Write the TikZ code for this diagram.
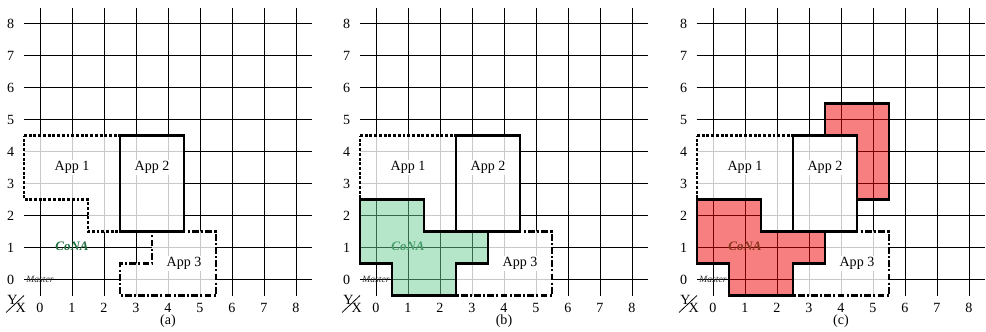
\documentclass[tikz,border=0pt]{standalone}
\usepackage{fontspec}
\setmainfont{Liberation Serif}
\definecolor{conagreen}{RGB}{30,110,60}
\definecolor{mintfill}{RGB}{110,205,150}
\definecolor{gridgray}{RGB}{200,200,200}
\definecolor{mastergray}{RGB}{50,50,50}
\definecolor{redfill}{RGB}{240,0,0}
\tikzset{
  gridline/.style={line width=0.8pt, black},
  innergrid/.style={line width=0.8pt, gridgray},
  appone/.style={line width=2.2pt, dash pattern=on 2.6pt off 1.6pt},
  apptwo/.style={line width=2.2pt},
  appthree/.style={line width=2.2pt, dash pattern=on 6pt off 2pt on 1.8pt off 2pt},
  applabel/.style={fill=white, inner sep=1pt, font=\fontsize{12.5}{14}\selectfont},
  axislabel/.style={inner sep=0pt, font=\fontsize{12.5}{14}\selectfont},
  caption/.style={inner sep=0pt, font=\fontsize{12.5}{14}\selectfont},
  masterlabel/.style={inner sep=0pt, text=mastergray, font=\fontsize{8.5}{9}\selectfont\itshape},
  conalabel/.style={inner sep=0pt, font=\fontsize{11.5}{12}\selectfont\bfseries\itshape},
  conaborder/.style={line width=2.3pt},
  pAone/.style={insert path={(-0.5,4.5) -- (2.5,4.5) -- (2.5,1.5) -- (1.5,1.5) -- (1.5,2.5) -- (-0.5,2.5) -- cycle}},
  pAtwo/.style={insert path={(2.5,1.5) rectangle (4.5,4.5)}},
  pAthree/.style={insert path={(3.5,1.5) -- (5.5,1.5) -- (5.5,-0.5) -- (2.5,-0.5) -- (2.5,0.5) -- (3.5,0.5) -- cycle}},
  pCona/.style={insert path={(-0.5,2.5) -- (1.5,2.5) -- (1.5,1.5) -- (3.5,1.5) -- (3.5,0.5) -- (2.5,0.5) -- (2.5,-0.5) -- (0.5,-0.5) -- (0.5,0.5) -- (-0.5,0.5) -- cycle}},
  pExtra/.style={insert path={(3.5,5.5) -- (5.5,5.5) -- (5.5,2.5) -- (4.5,2.5) -- (4.5,4.5) -- (3.5,4.5) -- cycle}},
}
\newcommand{\basepanel}[1]{%
  \draw[gridline] (-0.5,-0.5) grid (8.5,8.5);
  % App 1
  \fill[white, pAone];
  \begin{scope}\clip[pAone]; \draw[innergrid] (-0.5,-0.5) grid (8.5,8.5); \end{scope}
  % App 2
  \fill[white, pAtwo];
  \begin{scope}\clip[pAtwo]; \draw[innergrid] (-0.5,-0.5) grid (8.5,8.5); \end{scope}
  % App 3
  \fill[white, pAthree];
  \begin{scope}\clip[pAthree]; \draw[innergrid] (-0.5,-0.5) grid (8.5,8.5); \end{scope}
  \draw[appone, pAone];
  \draw[apptwo, pAtwo];
  \draw[appthree, pAthree];
  \node[applabel] (app1) at (1,3.5) {App 1};
  \node[applabel] (app2) at (3.5,3.5) {App 2};
  \node[applabel] (app3) at (4.5,0.5) {App 3};
  \node[masterlabel] (master) at (0,0) {Master};
  \node[conalabel, text=conagreen] (cona) at (1,1.05) {CoNA};
  \foreach \i in {0,...,8} {
    \node[axislabel] (y\i) at (-0.92,\i) {\i};
    \node[axislabel] (x\i) at (\i,-0.875) {\i};
  }
  \coordinate (corner) at (-0.5,-0.5);
  \coordinate (diagend) at (-1.06,-1.03);
  \draw[line width=0.7pt] (corner) -- (diagend);
  \node[axislabel] (ylab) at (-0.86,-0.64) {Y};
  \node[axislabel] (xlab) at (-0.6,-0.875) {X};
  \node[caption] (cap) at (4,-1.31) {(#1)};
}
\begin{document}
\begin{tikzpicture}
\useasboundingbox (0,0) rectangle (30.8125,10.375);
% panel (a)
\begin{scope}[shift={(1.25,1.64)}, name prefix=a-]
  \basepanel{a}
\end{scope}
% panel (b)
\begin{scope}[shift={(11.75,1.64)}, name prefix=b-]
  \basepanel{b}
  \fill[mintfill, fill opacity=0.5, pCona];
  \draw[conaborder, pCona];
\end{scope}
% panel (c)
\begin{scope}[shift={(22.28,1.64)}, name prefix=c-]
  \basepanel{c}
  \fill[redfill, fill opacity=0.5, pCona];
  \fill[redfill, fill opacity=0.5, pExtra];
  \draw[conaborder, pCona];
  \draw[conaborder, pExtra];
\end{scope}
\end{tikzpicture}
\end{document}
